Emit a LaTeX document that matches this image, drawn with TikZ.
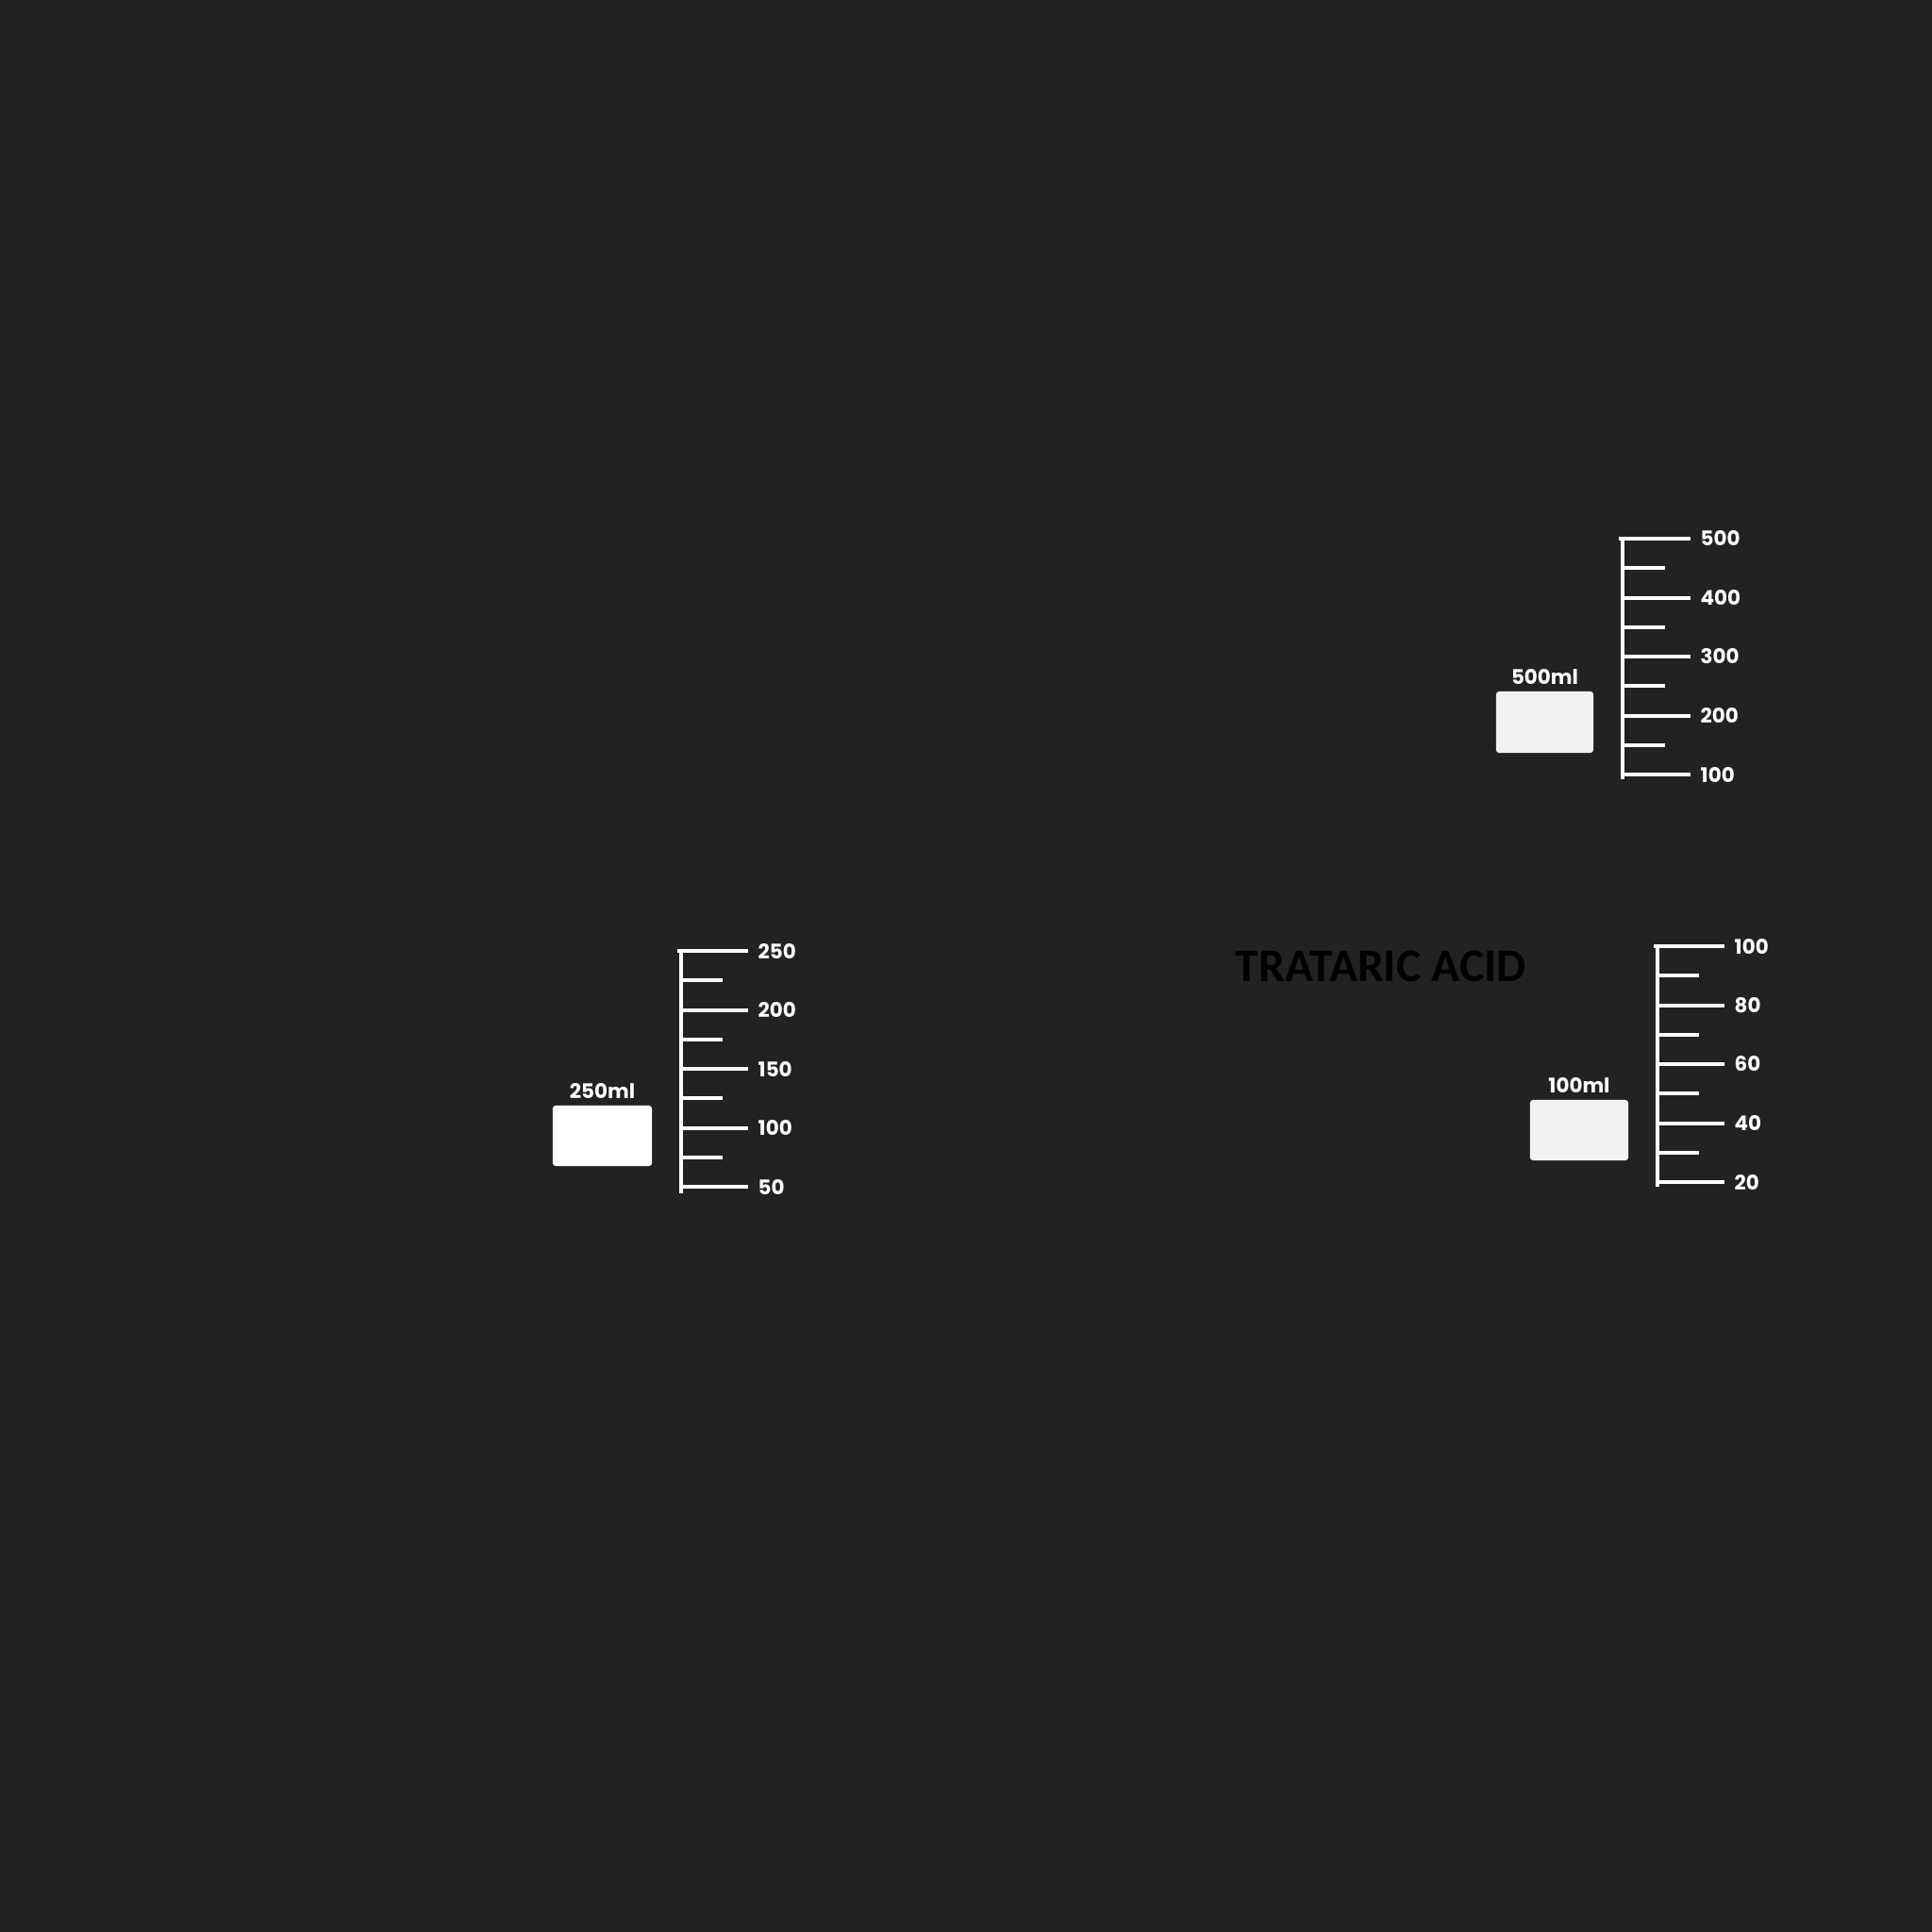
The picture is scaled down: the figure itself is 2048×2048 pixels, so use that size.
\documentclass[tikz,border=0pt]{standalone}
\usepackage{fontspec}
\setmainfont{Poppins}
\newfontfamily\titlefont{Carlito}
\usetikzlibrary{positioning}
\definecolor{bgdark}{HTML}{222222}
\definecolor{boxgray}{HTML}{F2F2F2}
\tikzset{
scale line/.style={white, line width=0.04cm}, % the graduation lines
tick label/.style={white, anchor=west, inner sep=0, font=\bfseries\fontsize{6.1}{7}\selectfont},
cap label/.style={white, inner sep=0, font=\bfseries\fontsize{6.1}{7}\selectfont},
beaker/.style={rectangle, rounded corners=0.03cm, inner sep=0, minimum width=1.04cm, minimum height=0.64cm},
}
\begin{document}
\begin{tikzpicture}[x=0.01cm,y=-0.01cm]
\fill[bgdark] (0,0) rectangle (2048,2048);

% 500ml scale
\node[beaker, fill=boxgray, minimum width=1.03cm, minimum height=0.65cm] (box500) at (1637.5,765.5) {};
\node[cap label] (cap500) [above=0.06cm of box500] {500ml};
\draw[scale line] (1716,571) -- (1720,571) -- (1720,826);
\foreach \v [count=\i from 0] in {500,400,300,200,100}{
\draw[scale line] (1720,571+62.5*\i) -- (1792,571+62.5*\i);
\node[tick label] (a\i) at (1802,571+62.5*\i) {\v};
}
\foreach \i in {0,...,3}
\draw[scale line] (1720,602.25+62.5*\i) -- (1765,602.25+62.5*\i);

% 250ml scale
\node[beaker, fill=white, minimum width=1.05cm] (box250) at (638.5,1204) {};
\node[cap label] (cap250) [above=0.06cm of box250] {250ml};
\draw[scale line] (718,1008) -- (722,1008) -- (722,1265);
\foreach \v [count=\i from 0] in {250,200,150,100,50}{
\draw[scale line] (722,1008+62.5*\i) -- (793,1008+62.5*\i);
\node[tick label] (b\i) at (803,1008+62.5*\i) {\v};
}
\foreach \i in {0,...,3}
\draw[scale line] (722,1039.25+62.5*\i) -- (766,1039.25+62.5*\i);

% 100ml scale
\node[beaker, fill=boxgray] (box100) at (1674,1198) {};
\node[cap label] (cap100) [above=0.06cm of box100] {100ml};
\draw[scale line] (1753,1003) -- (1757,1003) -- (1757,1258);
\foreach \v [count=\i from 0] in {100,80,60,40,20}{
\draw[scale line] (1757,1003+62.5*\i) -- (1828,1003+62.5*\i);
\node[tick label] (c\i) at (1838,1003+62.5*\i) {\v};
}
\foreach \i in {0,...,3}
\draw[scale line] (1757,1034.25+62.5*\i) -- (1801,1034.25+62.5*\i);

\node[anchor=base west, inner sep=0, black, font=\titlefont\bfseries\fontsize{14.1}{17}\selectfont] (acid) at (1309,1040) {TRATARIC ACID};
\end{tikzpicture}
\end{document}
